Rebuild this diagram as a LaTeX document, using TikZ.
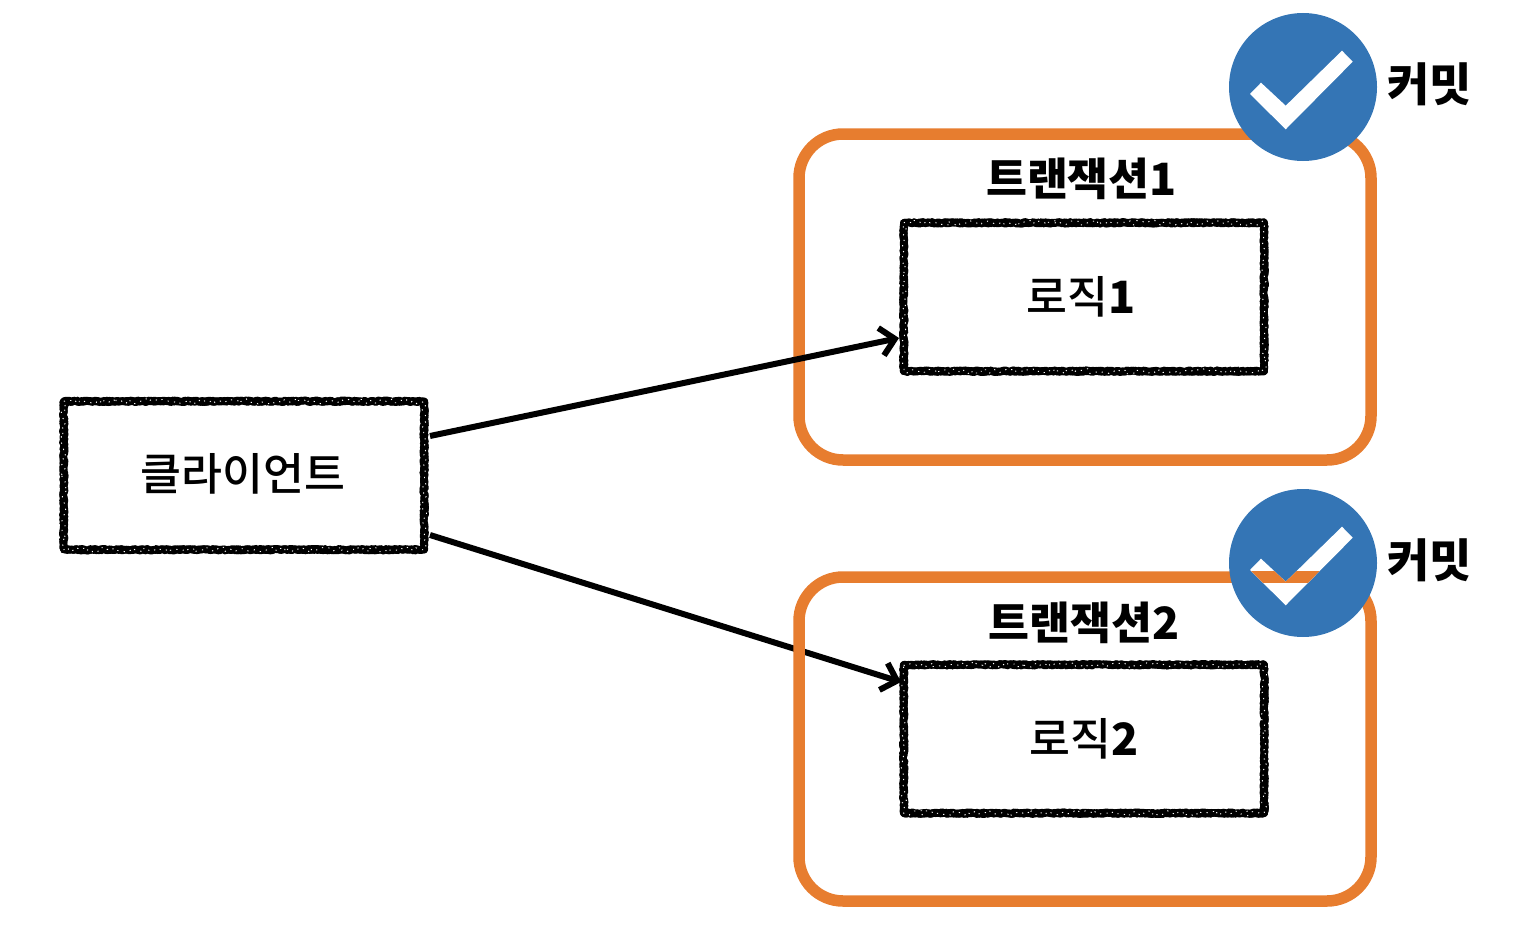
\documentclass[tikz,border=0pt]{standalone}
\usepackage{fontspec}
\setmainfont{Noto Sans CJK KR}
\newfontfamily\krmed{Noto Sans CJK KR Medium}
\usetikzlibrary{decorations.pathmorphing,arrows.meta}
\definecolor{txorange}{HTML}{E77D2F}
\definecolor{chkblue}{HTML}{3475B5}
\tikzset{
  roughbox/.style={inner sep=0pt,minimum width=360pt,minimum height=148pt},
  roughline/.style={draw=black,line width=7.5pt,line join=round,decorate,decoration={random steps,segment length=1.6pt,amplitude=1pt}},
  speckle/.style={draw=white,line width=0.9pt,line join=round,dash pattern=on 1.2pt off 5.3pt,decorate,decoration={random steps,segment length=3pt,amplitude=2.6pt}},
  txbox/.style={draw=txorange,line width=11.5pt,rounded corners=44pt,inner sep=0pt,minimum width=572pt},
  flow/.style={draw=black,line width=6pt,-{Straight Barb[length=14pt,width=28pt,line width=6pt]}},
  chkcircle/.style={circle,fill=chkblue,minimum size=148pt,inner sep=0pt},
  lab/.style={font=\krmed\fontsize{44.5}{44.5}\selectfont,text=black,inner sep=0pt},
  blab/.style={font=\bfseries\fontsize{44.5}{44.5}\selectfont,text=black,inner sep=0pt},
  cmlab/.style={font=\bfseries\fontsize{46}{46}\selectfont,text=black,inner sep=0pt}
}
\newcommand{\rough}[1]{%
  \path[roughline] (#1.north west) -- (#1.north east) -- (#1.south east) -- (#1.south west) -- cycle;
  \path[roughline] (#1.south west) -- (#1.south east) -- (#1.north east) -- (#1.north west) -- cycle;
  \path[speckle] (#1.north west) -- (#1.north east) -- (#1.south east) -- (#1.south west) -- cycle;
}
\newcommand{\checkmk}[1]{([shift={(-53,7)}]#1.center) -- ([shift={(-42,-4.3)}]#1.center) -- ([shift={(-17.3,18.7)}]#1.center) -- ([shift={(39,-36.3)}]#1.center) -- ([shift={(49.7,-25.3)}]#1.center) -- ([shift={(-17.3,42.3)}]#1.center) -- cycle}
\begin{document}
\begin{tikzpicture}[x=1pt,y=-1pt]
\useasboundingbox (0,0) rectangle (1516,934);
\node[roughbox] (client) at (244,475.5) {};
\node[roughbox] (logicA) at (1084,297) {};
\node[roughbox] (logicB) at (1084,739) {};
\rough{client}\rough{logicA}\rough{logicB}
\node[lab] (clientlab) at (243,474) {클라이언트};
\node[lab] (logicAlab) at (1081,296.5) {로직{\bfseries 1}};
\node[lab] (logicBlab) at (1084,738.5) {로직{\bfseries 2}};
\coordinate (cA) at (430,436);
\coordinate (cB) at (430,535);
\coordinate (tA) at (899,338);
\coordinate (tB) at (901,682);
\node[minimum height=326pt,txbox] (txA) at (1085,297) {};
\draw[flow] (cA) -- (tA);
\draw[flow] (cB) -- (tB);
\node[minimum height=324pt,txbox] (txB) at (1085,739) {};
\node[blab] (txAlab) at (1081.5,179) {트랜잭션1};
\node[blab] (txBlab) at (1084,623) {트랜잭션2};
\node[chkcircle] (okA) at (1303,87) {};
\node[chkcircle] (okB) at (1303,563) {};
\fill[white] \checkmk{okA};
\fill[white] \checkmk{okB};
\begin{scope}
\clip \checkmk{okB};
\fill[txorange] (1200,571) rectangle (1400,583);
\end{scope}
\node[cmlab] (cmA) at (1429.5,84) {커밋};
\node[cmlab] (cmB) at (1429.5,560) {커밋};
\end{tikzpicture}
\end{document}
